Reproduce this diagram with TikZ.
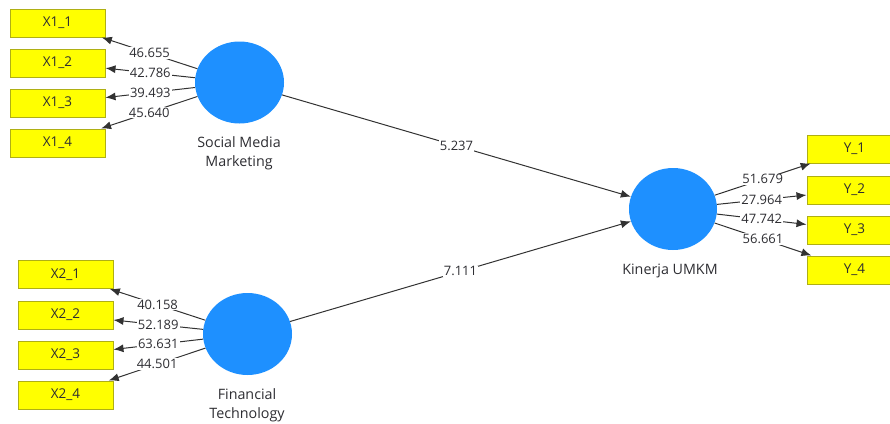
\documentclass[tikz,border=0pt]{standalone}
\usepackage{fontspec}
\setmainfont{Open Sans}
\usetikzlibrary{arrows.meta,shapes.geometric}
\definecolor{plsblue}{RGB}{30,144,255}
\definecolor{plsyellow}{RGB}{255,255,0}
\definecolor{plsedge}{RGB}{175,175,20}
\definecolor{plsline}{RGB}{50,50,50}
\definecolor{plstext}{RGB}{45,45,50}
\tikzset{
  indicator/.style={draw=plsedge, fill=plsyellow, line width=1pt, minimum width=95, minimum height=28, inner sep=0pt, text=plstext, font=\fontsize{13.5}{15}\selectfont},
  construct/.style={ellipse, fill=plsblue, minimum width=89, minimum height=82, inner sep=0pt},
  cname/.style={align=center, inner sep=0pt, text=plstext, font=\fontsize{14.3}{19}\selectfont},
  load/.style={draw=plsline, line width=1pt, -{Latex[length=10pt,width=8pt]}},
  lbl/.style={fill=white, inner sep=1pt, text=plstext, font=\fontsize{13}{14}\selectfont},
}
\begin{document}
\begin{tikzpicture}[x=1pt,y=1pt,yscale=-1]
  \useasboundingbox (0,0) rectangle (890,423);
  \clip (0,0) rectangle (890,423);

  %Shape: Ellipse (constructs)
  \node [construct] (smm) at (239.5,82.5) {};
  \node [construct] (ft) at (247.5,334) {};
  \node [construct, minimum width=88] (kin) at (673,209) {};

  % Text Node
  \node [cname] (smmname) at (239,153) {Social Media\\Marketing};
  % Text Node
  \node [cname] (ftname) at (247,405) {Financial\\Technology};
  % Text Node
  \node [cname] (kinname) at (670,271) {Kinerja UMKM};

  %Shape: Rectangle (indicators X1)
  \node [indicator] (x11) at (57.5,23) {X1\_1};
  \node [indicator] (x12) at (57.5,63) {X1\_2};
  \node [indicator] (x13) at (57.5,103) {X1\_3};
  \node [indicator] (x14) at (57.5,143) {X1\_4};

  %Shape: Rectangle (indicators X2)
  \node [indicator] (x21) at (65.5,274.5) {X2\_1};
  \node [indicator] (x22) at (65.5,315) {X2\_2};
  \node [indicator] (x23) at (65.5,355) {X2\_3};
  \node [indicator] (x24) at (65.5,395) {X2\_4};

  %Shape: Rectangle (indicators Y)
  \node [indicator] (y1) at (854.5,149) {Y\_1};
  \node [indicator] (y2) at (854.5,190) {Y\_2};
  \node [indicator] (y3) at (854.5,230) {Y\_3};
  \node [indicator] (y4) at (854.5,270) {Y\_4};

  %Straight Lines (outer loadings)
  \draw [load] (smm) -- node [lbl] {46.655} (x11);
  \draw [load] (smm) -- node [lbl] {42.786} (x12);
  \draw [load] (smm) -- node [lbl] {39.493} (x13);
  \draw [load] (smm) -- node [lbl] {45.640} (x14);

  \draw [load] (ft) -- node [lbl] {40.158} (x21);
  \draw [load] (ft) -- node [lbl] {52.189} (x22);
  \draw [load] (ft) -- node [lbl] {63.631} (x23);
  \draw [load] (ft) -- node [lbl] {44.501} (x24);

  \draw [load] (kin) -- node [lbl] {51.679} (y1);
  \draw [load] (kin) -- node [lbl] {27.964} (y2);
  \draw [load] (kin) -- node [lbl] {47.742} (y3);
  \draw [load] (kin) -- node [lbl] {56.661} (y4);

  %Straight Lines (path coefficients)
  \draw [load] (smm) -- node [lbl] {5.237} (kin);
  \draw [load] (ft) -- node [lbl] {7.111} (kin);
\end{tikzpicture}
\end{document}
